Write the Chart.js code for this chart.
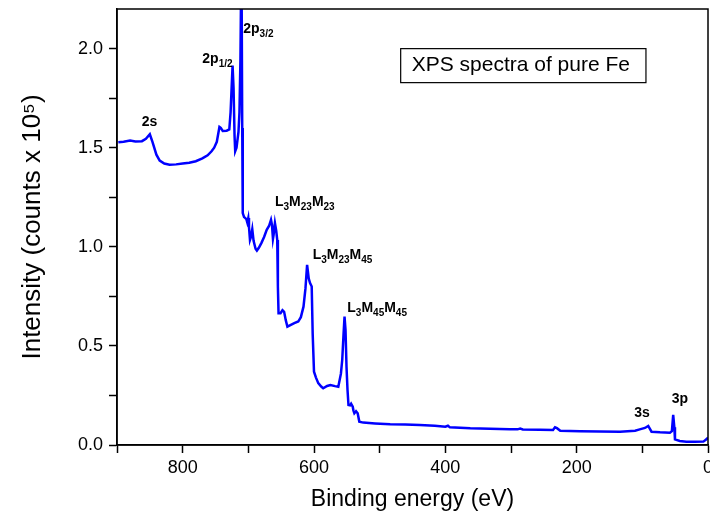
<!DOCTYPE html>
<html><head><meta charset="utf-8">
<script src="https://cdn.jsdelivr.net/npm/chart.js@4/dist/chart.umd.min.js"></script>
<style>html,body{margin:0;padding:0;background:#fff;}#wrap{width:710px;height:517px;}</style>
</head><body><div id="wrap"><canvas id="c" width="710" height="517"></canvas></div>
<script>
// Binding energy (eV) and intensity (counts x 10^5)
const energy = [898,890,880,872,862,856,850,846,840,835,828,820,810,800,790,780,770,762,756,752,748,744,742,739,733,729,727,724,722.5,721,720,718,715,713.5,712,710.5,709.3,708.5,706.5,705,703,701.6,700.1,699,697.5,696,694,692,689,687,684,680,676,672,668.5,665.5,664,662.5,661.5,659.5,657.5,656,655,654,651,648,645.5,643,640.5,636,630,624,620,616,613,610.5,608,606,603.5,602,600,597,593.5,589,586,580,575,568,563,559,557,555,553.5,552,550.5,549,547.5,545,543.5,541,540,538.5,536,533.5,531,525,507,484,461,439,416,400,396,393,362,332,302,290,286,282,256,236,233,230,225,195,165,134,111,104,96,91,86,73,58,55,53,51.3,50.3,43,33,20,7,2,0];
const intensity = [1.528,1.530,1.536,1.532,1.533,1.545,1.568,1.530,1.465,1.435,1.420,1.414,1.416,1.420,1.424,1.432,1.446,1.462,1.482,1.500,1.530,1.605,1.600,1.585,1.586,1.592,1.680,1.915,1.800,1.560,1.482,1.500,1.580,1.680,1.950,2.500,1.600,1.170,1.150,1.146,1.140,1.123,1.145,1.100,1.035,1.050,1.089,1.030,0.990,0.981,0.995,1.020,1.050,1.086,1.105,1.136,1.110,1.040,1.060,1.120,1.080,1.035,0.800,0.665,0.665,0.680,0.672,0.630,0.597,0.605,0.615,0.623,0.645,0.698,0.790,0.909,0.840,0.817,0.800,0.560,0.370,0.340,0.312,0.295,0.286,0.298,0.303,0.297,0.294,0.360,0.430,0.560,0.648,0.580,0.395,0.280,0.202,0.200,0.208,0.193,0.175,0.160,0.170,0.160,0.118,0.113,0.109,0.105,0.103,0.101,0.097,0.092,0.097,0.089,0.084,0.082,0.080,0.079,0.083,0.078,0.077,0.076,0.089,0.085,0.072,0.070,0.068,0.067,0.072,0.079,0.086,0.096,0.067,0.064,0.062,0.070,0.152,0.090,0.028,0.020,0.017,0.016,0.017,0.030,0.038];

const xTickValues = [900,800,700,600,500,400,300,200,100,0];
const xLabelValues = [800,600,400,200,0];
const yTickValues = [0,0.25,0.5,0.75,1.0,1.25,1.5,1.75,2.0];
const yLabelValues = [0,0.5,1.0,1.5,2.0];

// Peak labels: pieces of [text, isSubscript]
const peakLabels = [
  [['2s',false]],
  [['2p',false],['1/2',true]],
  [['2p',false],['3/2',true]],
  [['L',false],['3',true],['M',false],['23',true],['M',false],['23',true]],
  [['L',false],['3',true],['M',false],['23',true],['M',false],['45',true]],
  [['L',false],['3',true],['M',false],['45',true],['M',false],['45',true]],
  [['3s',false]],
  [['3p',false]]
];
const peakLabelX = [862.4,770.1,707.7,659.4,602.0,549.3,112.3,55.3];
const peakLabelY = [1.611,1.928,2.079,1.204,0.938,0.673,0.143,0.211];

const boxText = 'XPS spectra of pure Fe';
const boxX = 468;
const boxY = 2.0;

const FONT = 'Arial, "Liberation Sans", sans-serif';

const annotate = {
  id: 'annotate',
  afterDatasetsDraw(chart) {
    const {ctx, chartArea: a, scales: {x, y}} = chart;
    ctx.save();
    ctx.strokeStyle = '#000';
    ctx.lineWidth = 1.5;
    ctx.strokeRect(a.left, a.top, a.right - a.left, a.bottom - a.top);
    ctx.fillStyle = '#000';
    ctx.textBaseline = 'alphabetic';
    ctx.textAlign = 'left';
    peakLabels.forEach((parts, i) => {
      let px = x.getPixelForValue(peakLabelX[i]);
      const py = y.getPixelForValue(peakLabelY[i]);
      parts.forEach(([t, sub]) => {
        ctx.font = 'bold ' + (sub ? 10 : 14) + 'px ' + FONT;
        ctx.fillText(t, px, py + (sub ? 4 : 0));
        px += ctx.measureText(t).width;
      });
    });
    ctx.font = '21px ' + FONT;
    const tw = ctx.measureText(boxText).width;
    const bx = x.getPixelForValue(boxX);
    const by = y.getPixelForValue(boxY);
    ctx.lineWidth = 1.2;
    ctx.strokeRect(bx, by, tw + 27, 34);
    ctx.fillText(boxText, bx + 11, by + 22.5);
    ctx.restore();
  }
};

new Chart(document.getElementById('c'), {
  type: 'line',
  data: {
    datasets: [{
      data: energy.map((e, i) => ({x: e, y: intensity[i]})),
      borderColor: '#0000ff',
      borderWidth: 2.5,
      pointRadius: 0,
      fill: false,
      tension: 0
    }]
  },
  options: {
    responsive: false,
    devicePixelRatio: 1,
    animation: false,
    layout: {padding: {left: 0, right: 2, top: 9, bottom: 0}},
    plugins: {legend: {display: false}, tooltip: {enabled: false}},
    scales: {
      x: {
        type: 'linear', reverse: true, min: 0, max: 900,
        afterBuildTicks: s => { s.ticks = xTickValues.map(v => ({value: v})); },
        afterFit: s => { s.height = 72; s.paddingLeft = 0; s.paddingRight = 0; },
        ticks: {autoSkip: false, maxRotation: 0, color: '#000', padding: 4,
          font: {family: FONT, size: 18},
          callback: v => xLabelValues.includes(v) ? String(v) : ''},
        grid: {drawOnChartArea: false, drawTicks: true, tickLength: 8, color: '#000', tickWidth: 1.5},
        border: {display: true, color: '#000', width: 1.5},
        title: {display: true, text: 'Binding energy (eV)', color: '#000',
          font: {family: FONT, size: 23}, padding: {top: 0, bottom: 4}}
      },
      y: {
        type: 'linear', min: 0, max: 2.2,
        afterBuildTicks: s => { s.ticks = yTickValues.map(v => ({value: v})); },
        afterFit: s => { s.width = 117; s.paddingTop = 0; s.paddingBottom = 0; },
        ticks: {autoSkip: false, color: '#000', padding: 6,
          font: {family: FONT, size: 18},
          callback: v => yLabelValues.includes(v) ? v.toFixed(1) : ''},
        grid: {drawOnChartArea: false, drawTicks: true, tickLength: 8, color: '#000', tickWidth: 1.5},
        border: {display: true, color: '#000', width: 1.5},
        title: {display: true, text: 'Intensity (counts x 10\u2075)', color: '#000',
          font: {family: FONT, size: 26}, padding: {top: 17, bottom: 0}}
      }
    }
  },
  plugins: [annotate]
});
</script>
</body></html>
